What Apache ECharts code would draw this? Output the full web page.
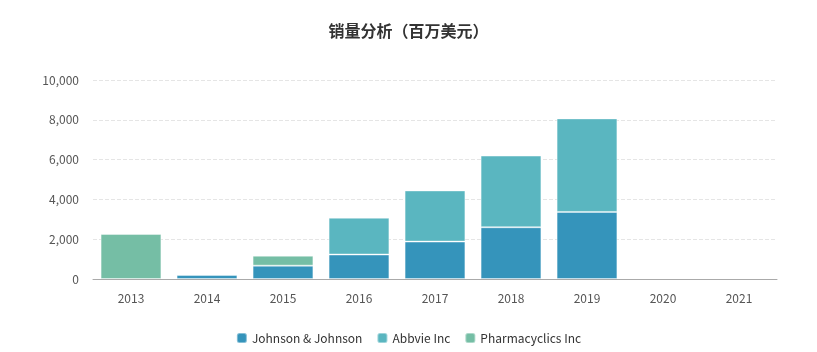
<!DOCTYPE html>
<html>
<head>
<meta charset="utf-8">
<script src="https://cdn.jsdelivr.net/npm/echarts@6/dist/echarts.min.js"></script>
<style>
  html, body { margin: 0; padding: 0; background: #fff; }
  #main { width: 817px; height: 352px; }
</style>
</head>
<body>
<div id="main"></div>
<script>
// 年份
var years = ['2013', '2014', '2015', '2016', '2017', '2018', '2019', '2020', '2021'];
// 各公司销量（百万美元），null = 无数据
var jnj = [null, 200, 670, 1230, 1880, 2600, 3370, null, null];
var abbvie = [null, null, null, 1850, 2570, 3600, 4700, null, null];
var pharmacyclics = [2260, null, 500, null, null, null, null, null, null];

var myChart = echarts.init(document.getElementById('main'));
var font = '"Noto Sans CJK SC", "Noto Sans", sans-serif';

var option = {
    animation: false,
    color: ['#3594bb', '#5ab6c0', '#75bea5'],
    title: {
        text: '销量分析（百万美元）',
        left: 'center',
        top: 18,
        textStyle: { fontSize: 16, fontWeight: 'bold', color: '#333', fontFamily: font }
    },
    legend: {
        bottom: 3,
        itemWidth: 10,
        itemHeight: 10,
        itemGap: 14,
        textStyle: { fontSize: 12, color: '#333', fontFamily: font },
        data: ['Johnson & Johnson', 'Abbvie Inc', 'Pharmacyclics Inc']
    },
    grid: { left: 93, right: 40, top: 80, bottom: 73 },
    xAxis: {
        type: 'category',
        data: years,
        axisTick: { show: false },
        axisLine: { lineStyle: { color: '#aaa' } },
        axisLabel: { color: '#555', fontSize: 12, margin: 13, fontFamily: font }
    },
    yAxis: {
        type: 'value',
        min: 0,
        max: 10000,
        interval: 2000,
        axisLine: { show: false },
        axisTick: { show: false },
        splitLine: { lineStyle: { type: 'dashed', color: '#e5e5e5' } },
        axisLabel: {
            color: '#555',
            fontSize: 12,
            margin: 14,
            fontFamily: font,
            formatter: function (v) { return v.toLocaleString('en-US'); }
        }
    },
    series: [
        { name: 'Johnson & Johnson', type: 'bar', stack: 'total', barWidth: '80%', data: jnj,
          itemStyle: { borderColor: 'rgba(255,255,255,0.4)', borderWidth: 1 } },
        { name: 'Abbvie Inc', type: 'bar', stack: 'total', data: abbvie,
          itemStyle: { borderColor: 'rgba(255,255,255,0.4)', borderWidth: 1 } },
        { name: 'Pharmacyclics Inc', type: 'bar', stack: 'total', data: pharmacyclics,
          itemStyle: { borderColor: 'rgba(255,255,255,0.4)', borderWidth: 1 } }
    ]
};
myChart.setOption(option);
</script>
</body>
</html>
